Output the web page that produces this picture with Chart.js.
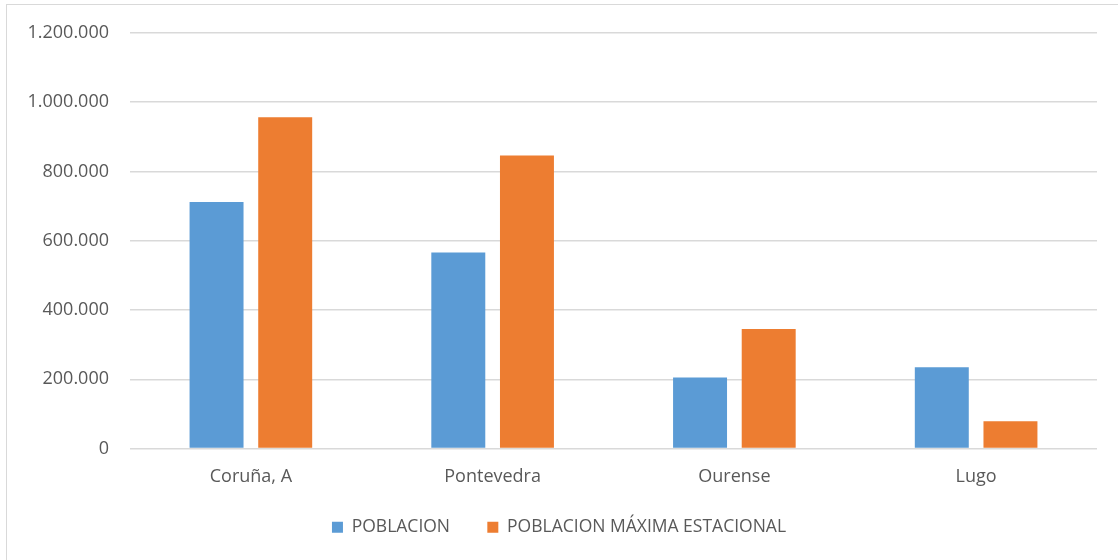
<!DOCTYPE html>
<html>
<head>
<meta charset="utf-8">
<script src="https://cdn.jsdelivr.net/npm/chart.js@4/dist/chart.umd.min.js"></script>
<style>
  html, body { margin: 0; padding: 0; background: #fff; overflow: hidden; }
  #wrap { position: relative; width: 1118px; height: 560px; }
  #frame { position: absolute; left: 6px; top: 4px; width: 1300px; height: 700px; border: 1px solid #d9d9d9; box-sizing: border-box; }
  canvas { position: absolute; left: 0; top: 0; }
</style>
</head>
<body>
<div id="wrap">
  <div id="frame"></div>
  <canvas id="c" width="1118" height="560"></canvas>
</div>
<script>
const categories = ['Coruña, A', 'Pontevedra', 'Ourense', 'Lugo'];
const poblacion = [711600, 566300, 204800, 234600];
const poblacionMaxEstacional = [956900, 846100, 345300, 78800];
const seriesNames = ['POBLACION', 'POBLACION MÁXIMA ESTACIONAL'];
const yTicks = [0, 200000, 400000, 600000, 800000, 1000000, 1200000];

function fmt(v) {
  return String(v).replace(/\B(?=(\d{3})+(?!\d))/g, '.');
}

const textColor = '#595959';
const fontFamily = '"Open Sans", "Liberation Sans", sans-serif';

new Chart(document.getElementById('c'), {
  type: 'bar',
  data: {
    labels: categories,
    datasets: [
      { label: seriesNames[0], data: poblacion, backgroundColor: '#5B9BD5', categoryPercentage: 0.568, barPercentage: 0.786 },
      { label: seriesNames[1], data: poblacionMaxEstacional, backgroundColor: '#ED7D31', categoryPercentage: 0.568, barPercentage: 0.786 }
    ]
  },
  options: {
    responsive: false,
    animation: false,
    layout: { padding: { left: 21, right: 21, top: 33, bottom: 14 } },
    plugins: {
      tooltip: { enabled: false },
      legend: {
        position: 'bottom',
        labels: {
          color: textColor,
          font: { family: fontFamily, size: 17.5 },
          boxWidth: 11,
          boxHeight: 11,
          padding: 10,
          generateLabels: function(chart) {
            const items = Chart.defaults.plugins.legend.labels.generateLabels(chart);
            items.forEach((it, i) => {
              it.lineWidth = 0;
              if (i === 0) it.text = it.text + '\u00a0\u00a0\u00a0\u00a0\u00a0\u00a0';
            });
            return items;
          }
        }
      }
    },
    scales: {
      x: {
        grid: { display: false },
        border: { display: false },
        ticks: { color: textColor, font: { family: fontFamily, size: 18 }, padding: 10 },
        afterFit: function(s) { s.height = 60; }
      },
      y: {
        min: 0,
        max: 1200000,
        afterBuildTicks: function(s) { s.ticks = yTicks.map(v => ({ value: v })); },
        grid: { color: '#d9d9d9', lineWidth: 1.5, drawTicks: false },
        border: { display: false },
        ticks: { color: textColor, font: { family: fontFamily, size: 18 }, padding: 21, callback: v => fmt(v) },
        afterFit: function(s) { s.width = 109; }
      }
    }
  }
});
</script>
</body>
</html>
